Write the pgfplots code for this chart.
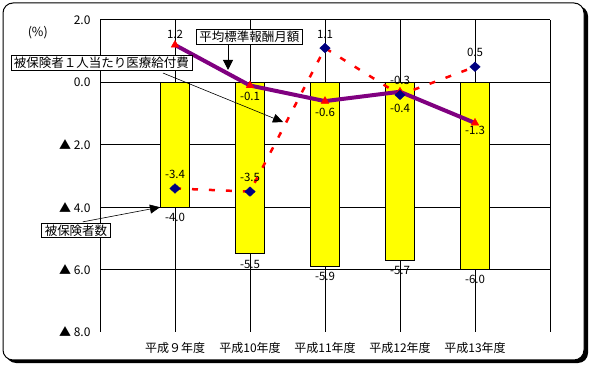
\documentclass[border=0pt]{standalone}
\usepackage{fontspec}
\setmainfont{Noto Sans CJK JP}
\usepackage{pgfplots}
\pgfplotsset{compat=1.18}
\usetikzlibrary{arrows.meta}
\definecolor{barY}{RGB}{255,255,0}
\definecolor{navyD}{RGB}{0,0,128}
\definecolor{purp}{RGB}{128,0,128}
\newcommand\lab{\fontsize{11.5}{13}\selectfont}
\newcommand\callf{\fontsize{12.5}{14}\selectfont}
\begin{document}
\begin{tikzpicture}
\useasboundingbox (0,0) rectangle (592pt,367pt);
\fill[black, rounded corners=10pt] (6pt,4pt) rectangle (588pt,361pt);
\draw[fill=white, line width=1pt, rounded corners=10pt] (3pt,7pt) rectangle (584pt,364pt);
\begin{axis}[
  at={(100pt,35pt)}, anchor=south west,
  scale only axis, width=450pt, height=312pt,
  xmin=-1, xmax=5, ymin=-8, ymax=2,
  clip=false,
  axis line style={draw=none},
  major tick length=0pt,
  xtick={0,1,2,3,4},
  xticklabels={平成９年度,平成10年度,平成11年度,平成12年度,平成13年度},
  xmajorgrids,
  extra x ticks={-1,5},
  extra x tick labels={},
  extra x tick style={grid=major},
  ytick={-8,-6,-4,-2,0,2},
  yticklabels={▲ 8.0,▲ 6.0,▲ 4.0,▲ 2.0,0.0,2.0},
  extra y ticks={-6,-4,-2,0,2},
  extra y tick labels={},
  extra y tick style={grid=major},
  grid style={black, line width=1pt},
  tick label style={font=\fontsize{12}{13}\selectfont},
  yticklabel style={xshift=-6pt},
  xticklabel style={yshift=-7pt},
]
% 被保険者数 (bars)
\addplot[ybar, bar width=29pt, bar shift=0pt, fill=barY, draw=black, line width=1pt]
  coordinates {(0,-4.0) (1,-5.5) (2,-5.9) (3,-5.7) (4,-6.0)};
% 被保険者1人当たり医療給付費 (red dashed line)
\addplot[red, line width=2.5pt, dash pattern=on 6pt off 11pt, mark=none]
  coordinates {(0,-3.4) (1,-3.5) (2,1.1) (3,-0.4) (4,0.5)};
% 平均標準報酬月額
\addplot[purp, line width=4pt, mark=triangle*, mark size=4.5pt,
  mark options={red, fill=red, line width=0.4pt, solid}]
  coordinates {(0,1.2) (1,-0.1) (2,-0.6) (3,-0.3) (4,-1.3)};
% diamonds
\addplot[only marks, mark=diamond*, mark size=4.8pt, navyD,
  mark options={fill=navyD, xscale=1.45}]
  coordinates {(0,-3.4) (1,-3.5) (2,1.1) (3,-0.4) (4,0.5)};
% labels
\addplot[draw=none, mark=none, nodes near coords, point meta=explicit symbolic,
  every node near coord/.style={font=\lab, anchor=center, yshift=-10pt}]
  coordinates {(0,-4.0)[-4.0] (1,-5.5)[-5.5] (2,-5.9)[-5.9] (3,-5.7)[-5.7] (4,-6.0)[-6.0]};
\addplot[draw=none, mark=none, nodes near coords, point meta=explicit symbolic,
  every node near coord/.style={font=\lab, anchor=center, yshift=11pt}]
  coordinates {(0,1.2)[1.2] (3,-0.3)[-0.3]};
\addplot[draw=none, mark=none, nodes near coords, point meta=explicit symbolic,
  every node near coord/.style={font=\lab, anchor=center, yshift=-11pt}]
  coordinates {(1,-0.1)[-0.1] (2,-0.6)[-0.6]};
\addplot[draw=none, mark=none, nodes near coords, point meta=explicit symbolic,
  every node near coord/.style={font=\lab, anchor=center, yshift=-7pt}]
  coordinates {(4,-1.3)[-1.3]};
\addplot[draw=none, mark=none, nodes near coords, point meta=explicit symbolic,
  every node near coord/.style={font=\lab, anchor=center, yshift=14pt}]
  coordinates {(0,-3.4)[-3.4] (1,-3.5)[-3.5] (2,1.1)[1.1] (4,0.5)[0.5]};
\addplot[draw=none, mark=none, nodes near coords, point meta=explicit symbolic,
  every node near coord/.style={font=\lab, anchor=center, yshift=-14pt}]
  coordinates {(3,-0.4)[-0.4]};
% callouts
\node[font=\callf] at (axis cs:-1.83,1.58) {(\%)};
\draw[line width=0.6pt, -{Triangle[length=10pt,width=9pt]}] (axis cs:-0.16,0.30) -- (axis cs:1.44,-1.27);
\node[draw, fill=white, line width=0.8pt, font=\callf, inner xsep=3pt, inner ysep=1.5pt] at (axis cs:-0.98,0.62) {被保険者１人当たり医療給付費};
\draw[line width=0.6pt, -{Triangle[length=10pt,width=10pt]}] (axis cs:0.707,1.2) -- (axis cs:0.707,0.40);
\node[draw, fill=white, line width=0.8pt, font=\callf, inner xsep=3pt, inner ysep=1.5pt] at (axis cs:0.99,1.46) {平均標準報酬月額};
\draw[line width=0.6pt, -{Triangle[length=10pt,width=9pt]}] (axis cs:-1.23,-4.47) -- (axis cs:-0.2,-4.0);
\node[draw, fill=white, line width=0.8pt, font=\callf, inner xsep=3pt, inner ysep=1.5pt] at (axis cs:-1.32,-4.75) {被保険者数};
\end{axis}
\end{tikzpicture}
\end{document}
